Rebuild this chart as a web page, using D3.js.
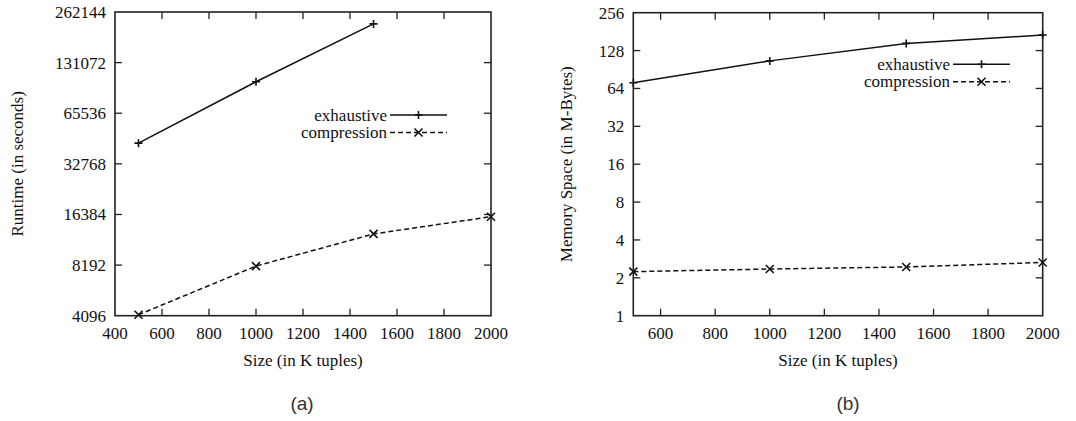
<!DOCTYPE html>
<html>
<head>
<meta charset="utf-8">
<script src="https://cdn.jsdelivr.net/npm/d3@7"></script>
<style>
body { margin: 0; background: #fff; }
svg { display: block; }
</style>
</head>
<body>
<div id="chart"></div>
<script>
// data
const seriesNames = ["exhaustive", "compression"];

const runtimeSizes = [500, 1000, 1500, 2000];
const runtimeExhaustive = [43500, 100800, 222800, null];
const runtimeCompression = [4150, 8080, 12550, 15890];
const runtimeTicks = [4096, 8192, 16384, 32768, 65536, 131072, 262144];
const runtimeXTicks = [400, 600, 800, 1000, 1200, 1400, 1600, 1800, 2000];

const memorySizes = [500, 1000, 1500, 2000];
const memoryExhaustive = [71, 106, 146, 170];
const memoryCompression = [2.24, 2.35, 2.44, 2.65];
const memoryTicks = [1, 2, 4, 8, 16, 32, 64, 128, 256];
const memoryXTicks = [600, 800, 1000, 1200, 1400, 1600, 1800, 2000];

const W = 1076, H = 421;
const serif = "'Liberation Serif', 'Times New Roman', serif";

const svg = d3.select("#chart").append("svg")
	.attr("width", W)
	.attr("height", H);

function drawPanel(opt) {
	const x = d3.scaleLinear().domain(opt.xDomain).range([opt.left, opt.right]);
	const y = d3.scaleLog().base(2).domain(opt.yDomain).range([opt.bottom, opt.top]);
	const g = svg.append("g");
	const tick = 7;

	// ticks, mirrored on all four sides and pointing inward
	const xInner = opt.xTicks.filter(v => v > opt.xDomain[0] && v < opt.xDomain[1]);
	const yInner = opt.yTicks.filter(v => v > opt.yDomain[0] && v < opt.yDomain[1]);
	const tk = g.append("g").attr("stroke", "#222").attr("stroke-width", 1.3);
	xInner.forEach(v => {
		tk.append("line").attr("x1", x(v)).attr("x2", x(v)).attr("y1", opt.bottom).attr("y2", opt.bottom - tick);
		tk.append("line").attr("x1", x(v)).attr("x2", x(v)).attr("y1", opt.top).attr("y2", opt.top + tick);
	});
	yInner.forEach(v => {
		tk.append("line").attr("x1", opt.left).attr("x2", opt.left + tick).attr("y1", y(v)).attr("y2", y(v));
		tk.append("line").attr("x1", opt.right).attr("x2", opt.right - tick).attr("y1", y(v)).attr("y2", y(v));
	});

	g.append("rect")
		.attr("x", opt.left).attr("y", opt.top)
		.attr("width", opt.right - opt.left).attr("height", opt.bottom - opt.top)
		.attr("fill", "none").attr("stroke", "#222").attr("stroke-width", 1.6);

	// tick labels
	const lab = g.append("g")
		.style("font-family", serif).style("font-size", "17px").attr("fill", "#111");
	opt.xTicks.forEach(v => {
		lab.append("text").attr("x", x(v)).attr("y", opt.bottom + 23)
			.attr("text-anchor", "middle").text(v);
	});
	opt.yTicks.forEach(v => {
		lab.append("text").attr("x", opt.left - 9).attr("y", y(v)).attr("dy", "0.35em")
			.attr("text-anchor", "end").text(v);
	});

	// axis titles
	lab.append("text")
		.attr("x", (opt.left + opt.right) / 2).attr("y", opt.bottom + 50)
		.attr("text-anchor", "middle").text("Size (in K tuples)");
	lab.append("text")
		.attr("transform", `translate(${opt.yLabelX},${(opt.top + opt.bottom) / 2}) rotate(-90)`)
		.attr("text-anchor", "middle").text(opt.yLabel);

	// panel caption
	g.append("text")
		.attr("x", opt.captionX).attr("y", 410)
		.attr("text-anchor", "middle")
		.style("font-family", "'Liberation Sans', Arial, sans-serif")
		.style("font-size", "19px").attr("fill", "#333")
		.text(opt.caption);

	const line = d3.line()
		.defined(d => d[1] != null)
		.x(d => x(d[0])).y(d => y(d[1]));

	opt.series.forEach((vals, i) => {
		const pts = opt.sizes.map((s, j) => [s, vals[j]]);
		g.append("path")
			.datum(pts)
			.attr("fill", "none").attr("stroke", "#111").attr("stroke-width", 1.5)
			.attr("stroke-dasharray", i === 1 ? "5,3" : null)
			.attr("d", line);
		pts.filter(d => d[1] != null).forEach(d => marker(g, x(d[0]), y(d[1]), i));
	});

	// legend
	const lg = g.append("g").style("font-family", serif).style("font-size", "17px").attr("fill", "#111");
	seriesNames.forEach((name, i) => {
		const ly = opt.legendY + i * 17.5;
		lg.append("text").attr("x", opt.legendX).attr("y", ly).attr("dy", "0.33em")
			.attr("text-anchor", "end").text(name);
		g.append("line")
			.attr("x1", opt.legendX + 3).attr("x2", opt.legendX + 60)
			.attr("y1", ly).attr("y2", ly)
			.attr("stroke", "#111").attr("stroke-width", 1.5)
			.attr("stroke-dasharray", i === 1 ? "5,3" : null);
		marker(g, opt.legendX + 31.5, ly, i);
	});
}

function marker(g, cx, cy, type) {
	const s = 4;
	const p = type === 0
		? `M${cx - s},${cy}H${cx + s}M${cx},${cy - s}V${cy + s}`
		: `M${cx - s},${cy - s}L${cx + s},${cy + s}M${cx - s},${cy + s}L${cx + s},${cy - s}`;
	g.append("path").attr("d", p).attr("stroke", "#111").attr("stroke-width", 1.6).attr("fill", "none");
}

drawPanel({
	left: 115, right: 491, top: 12, bottom: 315.7,
	xDomain: [400, 2000], yDomain: [4096, 262144],
	xTicks: runtimeXTicks, yTicks: runtimeTicks,
	sizes: runtimeSizes, series: [runtimeExhaustive, runtimeCompression],
	yLabel: "Runtime (in seconds)", yLabelX: 23,
	legendX: 387, legendY: 115,
	caption: "(a)", captionX: 302
});

drawPanel({
	left: 633.3, right: 1042.7, top: 12.7, bottom: 315.7,
	xDomain: [500, 2000], yDomain: [1, 256],
	xTicks: memoryXTicks, yTicks: memoryTicks,
	sizes: memorySizes, series: [memoryExhaustive, memoryCompression],
	yLabel: "Memory Space (in M-Bytes)", yLabelX: 572,
	legendX: 950, legendY: 64.3,
	caption: "(b)", captionX: 848
});
</script>
</body>
</html>
